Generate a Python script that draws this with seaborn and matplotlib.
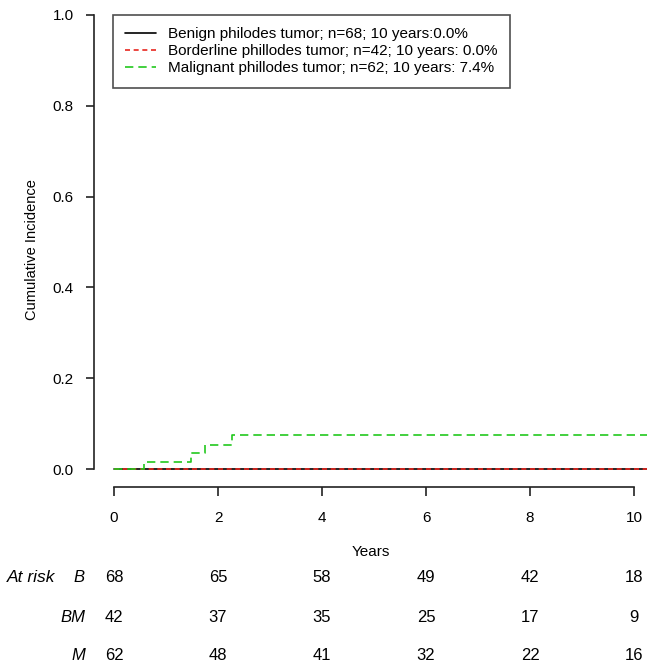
import numpy as np
import pandas as pd
import seaborn as sns
import matplotlib.pyplot as plt
from matplotlib import transforms

sns.set_style('white')
plt.rcParams['font.family'] = ['Liberation Sans', 'DejaVu Sans']
plt.rcParams.update({'text.color': 'black', 'axes.labelcolor': 'black',
                     'xtick.color': 'black', 'ytick.color': 'black'})

# cumulative incidence curves
benign_t = [0.0, 10.4]
benign_ci = [0.0, 0.0]
border_t = [0.0, 10.4]
border_ci = [0.0, 0.0]
malig_t = [0.0, 0.58, 1.48, 1.75, 2.27, 10.4]
malig_ci = [0.0, 0.016, 0.035, 0.054, 0.074, 0.074]

labels = ['Benign philodes tumor; n=68; 10 years:0.0%',
          'Borderline phillodes tumor; n=42; 10 years: 0.0%',
          'Malignant phillodes tumor; n=62; 10 years: 7.4%']

# numbers at risk
risk_years = [0, 2, 4, 6, 8, 10]
risk_groups = ['B', 'BM', 'M']
risk_B = [68, 65, 58, 49, 42, 18]
risk_BM = [42, 37, 35, 25, 17, 9]
risk_M = [62, 48, 41, 32, 22, 16]

W, H = 647, 666
fig = plt.figure(figsize=(W / 100, H / 100), dpi=100)
ax = fig.add_axes([94 / W, 1 - 487 / H, (W - 94) / W, (487 - 12) / H])

curves = [
    (benign_t, benign_ci, 'black', '-'),
    (border_t, border_ci, '#e8261f', (0, (3, 2.2))),
    (malig_t, malig_ci, '#22c81e', (0, (5, 3))),
]
for (t, ci, col, ls), lab in zip(curves, labels):
    df = pd.DataFrame({'t': t, 'ci': ci})
    sns.lineplot(data=df, x='t', y='ci', drawstyle='steps-post', color=col,
                 linestyle=ls, linewidth=1.2, label=lab, ax=ax)

ax.set_xlim(-0.385, 10.25)
ax.set_ylim(-0.0396, 1.0066)
ax.set_xticks(risk_years)
ax.set_yticks(np.arange(0, 1.01, 0.2))
ax.set_yticklabels(['0.0', '0.2', '0.4', '0.6', '0.8', '1.0'])

for s in ['top', 'right']:
    ax.spines[s].set_visible(False)
ax.spines['left'].set_bounds(0, 1)
ax.spines['bottom'].set_bounds(0, 10)
for s in ['left', 'bottom']:
    ax.spines[s].set_color('#222222')
    ax.spines[s].set_linewidth(1.2)

ax.tick_params(axis='y', direction='out', length=6, width=1.2, pad=8.5,
               labelsize=11, left=True, color='#222222')
ax.tick_params(axis='x', direction='out', length=6.5, width=1.2, pad=11,
               labelsize=11, bottom=True, color='#222222')

ax.set_xlabel('Years', fontsize=11)
ax.xaxis.set_label_coords(0.5, -0.122)
ax.set_ylabel('Cumulative Incidence', fontsize=10.5)
ax.yaxis.set_label_coords(-0.10, 0.5)

leg = ax.legend(loc='upper left', bbox_to_anchor=(113 / W, 1 - 15 / H),
                bbox_transform=fig.transFigure, borderaxespad=0,
                fontsize=11, frameon=True, fancybox=False, shadow=False,
                handlelength=2.0, handletextpad=0.8, labelspacing=0.2,
                borderpad=0.8)
leg.get_frame().set_edgecolor('#222222')
leg.get_frame().set_linewidth(1.2)

# at risk table
trans = transforms.blended_transform_factory(ax.transData, fig.transFigure)
row_y = [578, 617, 656]
for g, counts, py in zip(risk_groups, [risk_B, risk_BM, risk_M], row_y):
    fy = 1 - py / H
    fig.text(85 / W, fy, g, ha='right', va='center', style='italic', fontsize=12)
    for yr, n in zip(risk_years, counts):
        ax.text(yr, fy, str(n), transform=trans, ha='center', va='center',
                fontsize=12, clip_on=False)
fig.text(7 / W, 1 - row_y[0] / H, 'At risk', ha='left', va='center',
         style='italic', fontsize=12.5)

plt.savefig('out.png', dpi=100)
plt.close()
